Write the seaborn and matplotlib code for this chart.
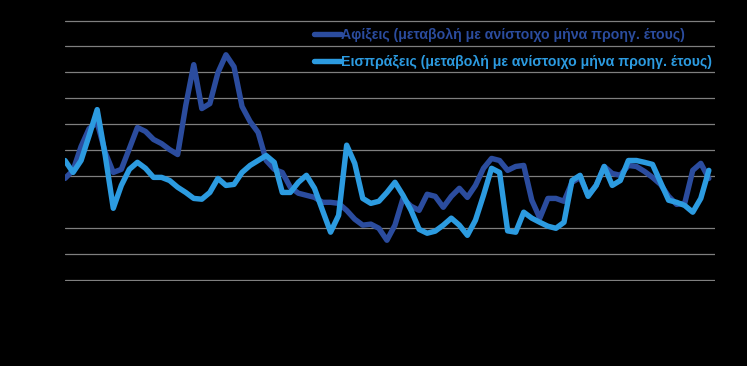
import numpy as np
import pandas as pd
import matplotlib
matplotlib.use("Agg")
import matplotlib.pyplot as plt
import seaborn as sns

# Μηνιαίες μεταβολές (%) σε σχέση με τον αντίστοιχο μήνα του προηγούμενου έτους
afixeis = [9.2, 12.3, 21.5, 28.4, 30.7, 19.2, 11.5, 12.7, 20.7, 28.8,
           27.3, 24.2, 22.6, 20.3, 18.4, 37.2, 53.0, 36.1, 38.0, 49.9,
           56.8, 52.2, 36.9, 31.1, 26.9, 16.1, 12.7, 11.5, 5.8, 3.5,
           2.7, 1.9, 0.0, 0.0, -0.4, -3.1, -6.5, -8.8, -8.4, -10.0,
           -14.6, -8.8, 1.5, -1.5, -3.1, 3.1, 2.3, -1.9, 2.3, 5.4,
           1.9, 6.5, 13.1, 16.9, 16.1, 12.3, 13.8, 14.2, 0.8, -6.1,
           1.5, 1.5, 0.4, 7.7, 9.6, 2.7, 6.5, 13.8, 11.1, 10.4,
           14.2, 13.8, 11.9, 9.6, 6.9, 2.3, -0.8, -0.4, 12.3, 15.0,
           9.2]

eisprakseis = [16.1, 11.5, 16.1, 25.7, 35.7, 18.0, -2.3, 6.5, 12.7, 15.4,
               13.1, 9.6, 9.6, 8.4, 5.8, 3.8, 1.5, 1.2, 3.8, 9.2,
               6.5, 6.9, 11.5, 14.2, 16.1, 18.0, 15.4, 3.8, 3.8, 7.7,
               10.4, 5.4, -3.1, -11.5, -5.0, 22.0, 15.0, 1.5, -0.4, 0.4,
               3.8, 7.7, 2.7, -3.1, -10.4, -11.9, -11.1, -8.8, -6.1, -8.8,
               -12.7, -6.9, 2.7, 13.1, 11.5, -11.0, -11.5, -3.8, -6.1, -7.7,
               -9.2, -10.0, -7.7, 8.4, 10.4, 2.3, 6.5, 13.8, 6.5, 8.4,
               16.1, 16.1, 15.4, 14.6, 7.7, 0.8, 0.0, -1.2, -3.8, 1.5,
               12.3]

label_afixeis = "Αφίξεις (μεταβολή με ανίστοιχο μήνα προηγ. έτους)"
label_eisprakseis = "Εισπράξεις (μεταβολή με ανίστοιχο μήνα προηγ. έτους)"

dark_blue = "#2b4c9e"
light_blue = "#2c9be0"

months = np.arange(len(afixeis))
df = pd.DataFrame({
    "month": np.concatenate([months, months]),
    "value": afixeis + eisprakseis,
    "series": [label_afixeis] * len(afixeis) + [label_eisprakseis] * len(eisprakseis),
})

sns.set_style("dark", {"axes.facecolor": "black", "figure.facecolor": "black"})
plt.rcParams["font.family"] = ["Liberation Sans", "DejaVu Sans"]

fig = plt.figure(figsize=(7.47, 3.66), dpi=100, facecolor="black")
ax = fig.add_axes([0.087, 0.2322, 0.870, 0.7132])
ax.set_facecolor("black")

# γραμμές πλέγματος (η γραμμή του μηδενός δεν φαίνεται)
for yv in range(-30, 71, 10):
    if yv == 0:
        continue
    ax.axhline(yv, color="#7f7f7f", lw=0.9, zorder=0)

sns.lineplot(data=df, x="month", y="value", hue="series",
             palette=[dark_blue, light_blue], linewidth=3.9, ax=ax,
             legend=False, zorder=3)
for line in ax.lines[-2:]:
    line.set_solid_joinstyle("round")
    line.set_solid_capstyle("round")

ax.set_xlim(0, 80.75)
ax.set_ylim(-30.3, 70.2)
ax.set_xticks([])
ax.set_yticks([])
ax.set_xlabel("")
ax.set_ylabel("")
for s in ax.spines.values():
    s.set_visible(False)
ax.grid(False)

handles = [plt.Line2D([], [], color=dark_blue, lw=3.9),
           plt.Line2D([], [], color=light_blue, lw=3.9)]
leg = ax.legend(handles, [label_afixeis, label_eisprakseis],
                loc="upper right", bbox_to_anchor=(1.0046, 0.992),
                frameon=False, handlelength=1.9, handletextpad=0.0,
                labelspacing=0.9, borderaxespad=0.0,
                labelcolor=[dark_blue, light_blue],
                prop={"weight": "bold", "size": 10.2})

fig.savefig("out.png", dpi=100, facecolor="black")
